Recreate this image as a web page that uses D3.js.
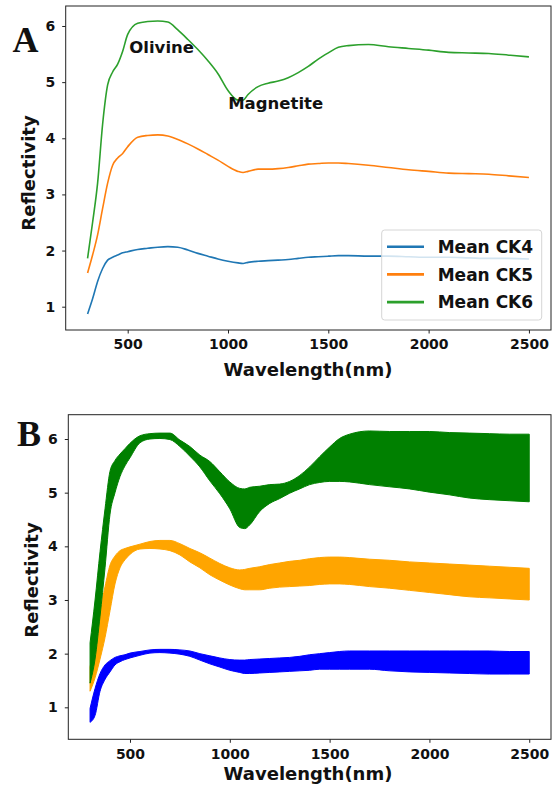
<!DOCTYPE html>
<html>
<head>
<meta charset="utf-8">
<script src="https://cdn.jsdelivr.net/npm/d3@7"></script>
<style>
  html, body { margin: 0; padding: 0; background: #fff; }
  svg text { font-family: "DejaVu Sans", sans-serif; font-weight: bold; fill: #111; }
</style>
</head>
<body>
<svg id="fig" width="556" height="792"></svg>
<script>
// Sampled wavelengths (nm)
const wavelengths = [300, 325, 350, 375, 400, 425, 450, 475, 500, 550, 600, 650, 700, 750, 800,
  850, 900, 950, 1000, 1050, 1075, 1100, 1150, 1200, 1250, 1300, 1350, 1400, 1450, 1500,
  1550, 1600, 1700, 1800, 1900, 2000, 2100, 2200, 2300, 2400, 2500];

// Panel A: mean reflectivity spectra
const meanCK4 = [0.87, 1.14, 1.45, 1.68, 1.83, 1.88, 1.92, 1.96, 1.98, 2.02, 2.04, 2.06, 2.07, 2.06, 2.01,
  1.95, 1.90, 1.85, 1.81, 1.78, 1.77, 1.79, 1.81, 1.82, 1.83, 1.84, 1.86, 1.88, 1.89, 1.90,
  1.91, 1.91, 1.90, 1.90, 1.89, 1.88, 1.88, 1.87, 1.86, 1.86, 1.85];
const meanCK5 = [1.60, 1.92, 2.28, 2.75, 3.20, 3.52, 3.65, 3.73, 3.85, 4.02, 4.05, 4.06, 4.04, 3.98, 3.90,
  3.81, 3.71, 3.61, 3.50, 3.41, 3.39, 3.41, 3.45, 3.45, 3.46, 3.48, 3.51, 3.54, 3.55, 3.56,
  3.56, 3.55, 3.52, 3.48, 3.44, 3.41, 3.38, 3.37, 3.36, 3.33, 3.30];
const meanCK6 = [1.86, 2.50, 3.20, 4.25, 4.95, 5.18, 5.32, 5.55, 5.85, 6.05, 6.08, 6.09, 6.07, 5.93, 5.76,
  5.58, 5.38, 5.15, 4.85, 4.68, 4.68, 4.78, 4.92, 4.98, 5.02, 5.08, 5.17, 5.28, 5.41, 5.52,
  5.62, 5.65, 5.67, 5.63, 5.60, 5.57, 5.53, 5.52, 5.51, 5.48, 5.45];

// Panel B: spread of the spectra (upper / lower envelope)
const ck4Upper = [0.98, 1.35, 1.63, 1.79, 1.87, 1.93, 1.96, 1.98, 2.01, 2.04, 2.07, 2.08, 2.08, 2.07, 2.05,
  2.00, 1.96, 1.92, 1.89, 1.88, 1.88, 1.89, 1.90, 1.91, 1.92, 1.93, 1.95, 1.98, 2.00, 2.02,
  2.04, 2.05, 2.05, 2.05, 2.05, 2.05, 2.05, 2.05, 2.05, 2.04, 2.04];
const ck4Lower = [0.72, 0.85, 1.30, 1.52, 1.66, 1.79, 1.85, 1.89, 1.92, 1.97, 2.01, 2.02, 2.01, 1.99, 1.95,
  1.88, 1.81, 1.75, 1.69, 1.65, 1.63, 1.63, 1.64, 1.65, 1.66, 1.67, 1.68, 1.69, 1.71, 1.71,
  1.71, 1.71, 1.71, 1.68, 1.66, 1.65, 1.64, 1.63, 1.62, 1.62, 1.62];
const ck5Upper = [1.75, 2.25, 2.80, 3.25, 3.65, 3.82, 3.92, 3.96, 3.99, 4.04, 4.09, 4.11, 4.11, 4.05, 3.96,
  3.88, 3.78, 3.68, 3.60, 3.56, 3.57, 3.59, 3.62, 3.66, 3.69, 3.72, 3.74, 3.77, 3.79, 3.80,
  3.80, 3.79, 3.76, 3.74, 3.71, 3.69, 3.67, 3.65, 3.63, 3.61, 3.59];
const ck5Lower = [1.30, 1.55, 1.90, 2.30, 2.80, 3.30, 3.60, 3.75, 3.85, 3.95, 3.96, 3.95, 3.92, 3.84, 3.71,
  3.60, 3.47, 3.37, 3.28, 3.21, 3.19, 3.19, 3.19, 3.22, 3.24, 3.25, 3.26, 3.27, 3.29, 3.30,
  3.30, 3.29, 3.25, 3.22, 3.18, 3.14, 3.10, 3.06, 3.04, 3.02, 3.00];
const ck6Upper = [2.20, 3.00, 3.90, 4.70, 5.40, 5.60, 5.72, 5.82, 5.92, 6.06, 6.10, 6.11, 6.11, 5.98, 5.86,
  5.70, 5.58, 5.39, 5.20, 5.08, 5.07, 5.10, 5.12, 5.15, 5.16, 5.21, 5.32, 5.48, 5.67, 5.85,
  6.01, 6.09, 6.15, 6.14, 6.14, 6.14, 6.12, 6.11, 6.10, 6.09, 6.09];
const ck6Lower = [1.45, 1.90, 2.70, 3.60, 4.60, 5.00, 5.30, 5.50, 5.65, 5.93, 6.00, 6.01, 5.99, 5.86, 5.68,
  5.48, 5.22, 4.98, 4.70, 4.35, 4.33, 4.40, 4.65, 4.80, 4.89, 4.99, 5.07, 5.15, 5.19, 5.21,
  5.21, 5.20, 5.15, 5.11, 5.07, 5.01, 4.96, 4.90, 4.87, 4.85, 4.83];

const xTicks = [500, 1000, 1500, 2000, 2500];
const yTicks = [1, 2, 3, 4, 5, 6];
const seriesNames = ["Mean CK4", "Mean CK5", "Mean CK6"];
const lineColors = ["#1f77b4", "#ff7f0e", "#2ca02c"];
const bandColors = ["#0000ff", "#ffa500", "#008000"];
const annotations = [
  { text: "Olivine", nm: 508, value: 5.52 },
  { text: "Magnetite", nm: 1001, value: 4.53 }
];

const svg = d3.select("#fig");
svg.append("rect").attr("width", 556).attr("height", 792).attr("fill", "#fff");

function drawFrame(g, x, y, box, opts) {
  // Axes with outward ticks
  const xAxis = d3.axisBottom(x).tickValues(xTicks).tickSize(3.5).tickPadding(opts.xPad).tickFormat(d3.format("d"));
  const yAxis = d3.axisLeft(y).tickValues(yTicks).tickSize(3.5).tickPadding(opts.yPad).tickFormat(d3.format("d"));
  const gx = g.append("g").attr("transform", `translate(0,${box.bottom})`).call(xAxis);
  const gy = g.append("g").attr("transform", `translate(${box.left},0)`).call(yAxis);
  [gx, gy].forEach(a => {
    a.select(".domain").remove();
    a.selectAll(".tick line").attr("stroke", "#222").attr("stroke-width", 1);
    a.selectAll(".tick text").attr("font-size", 14).style("font-family", "DejaVu Sans").style("font-weight", "bold").attr("fill", "#111");
  });
  // four spines
  g.append("rect")
    .attr("x", box.left).attr("y", box.top)
    .attr("width", box.right - box.left).attr("height", box.bottom - box.top)
    .attr("fill", "none").attr("stroke", "#222").attr("stroke-width", 1);
  // axis titles
  g.append("text")
    .attr("x", opts.xTitleX).attr("y", opts.xTitleY)
    .attr("text-anchor", "middle").attr("font-size", 18)
    .text("Wavelength(nm)");
  g.append("text")
    .attr("transform", `translate(${opts.yTitleX},${opts.yTitleY}) rotate(-90)`)
    .attr("text-anchor", "middle").attr("font-size", 18)
    .text("Reflectivity");
  // panel letter
  g.append("text")
    .attr("x", opts.letterX).attr("y", opts.letterY)
    .attr("font-size", 36)
    .style("font-family", "'Liberation Serif', 'Times New Roman', serif")
    .text(opts.letter);
}

// ---------- Panel A: mean spectra ----------
{
  const box = { left: 65.7, right: 551, top: 6, bottom: 330 };
  const x = d3.scaleLinear().domain([191, 2610]).range([box.left, box.right]);
  const y = d3.scaleLinear().domain([0.585, 6.356]).range([box.bottom, box.top]);
  const g = svg.append("g");

  const line = d3.line().x((d, i) => x(wavelengths[i])).y(d => y(d)).curve(d3.curveMonotoneX);
  [meanCK4, meanCK5, meanCK6].forEach((s, k) => {
    g.append("path").attr("d", line(s)).attr("fill", "none")
      .attr("stroke", lineColors[k]).attr("stroke-width", 1.6).attr("stroke-linejoin", "round");
  });

  annotations.forEach(a => {
    g.append("text").attr("x", x(a.nm)).attr("y", y(a.value))
      .attr("font-size", 16.5).text(a.text);
  });

  // legend
  const lg = g.append("g");
  lg.append("rect").attr("x", 381.7).attr("y", 230).attr("width", 160).attr("height", 90)
    .attr("rx", 3).attr("fill", "#fff").attr("fill-opacity", 0.8)
    .attr("stroke", "#d6d6d6").attr("stroke-width", 1);
  seriesNames.forEach((name, k) => {
    const yy = 246.7 + k * 27.7;
    lg.append("line").attr("x1", 387).attr("x2", 424).attr("y1", yy).attr("y2", yy)
      .attr("stroke", lineColors[k]).attr("stroke-width", 2.6);
    lg.append("text").attr("x", 437.7).attr("y", yy + 6.2).attr("font-size", 17).text(name);
  });

  drawFrame(g, x, y, box, {
    xPad: 6, yPad: 7,
    xTitleX: 308, xTitleY: 375.5,
    yTitleX: 34.5, yTitleY: 173,
    letter: "A", letterX: 12.5, letterY: 52
  });
}

// ---------- Panel B: spectral envelopes ----------
{
  const box = { left: 68.3, right: 551, top: 414.7, bottom: 739.3 };
  const x = d3.scaleLinear().domain([191, 2609]).range([box.left, box.right]);
  const y = d3.scaleLinear().domain([0.404, 6.453]).range([box.bottom, box.top]);
  const g = svg.append("g");

  const bands = [[ck4Upper, ck4Lower], [ck5Upper, ck5Lower], [ck6Upper, ck6Lower]];
  bands.forEach(([up, lo], k) => {
    const area = d3.area()
      .x(i => x(wavelengths[i]))
      .y0(i => y(lo[i]))
      .y1(i => y(up[i]))
      .curve(d3.curveMonotoneX);
    g.append("path").attr("d", area(d3.range(wavelengths.length)))
      .attr("fill", bandColors[k]).attr("stroke", bandColors[k]).attr("stroke-width", 1);
  });

  drawFrame(g, x, y, box, {
    xPad: 6, yPad: 7,
    xTitleX: 308, xTitleY: 780,
    yTitleX: 38, yTitleY: 580,
    letter: "B", letterX: 17, letterY: 446
  });
}
</script>
</body>
</html>
